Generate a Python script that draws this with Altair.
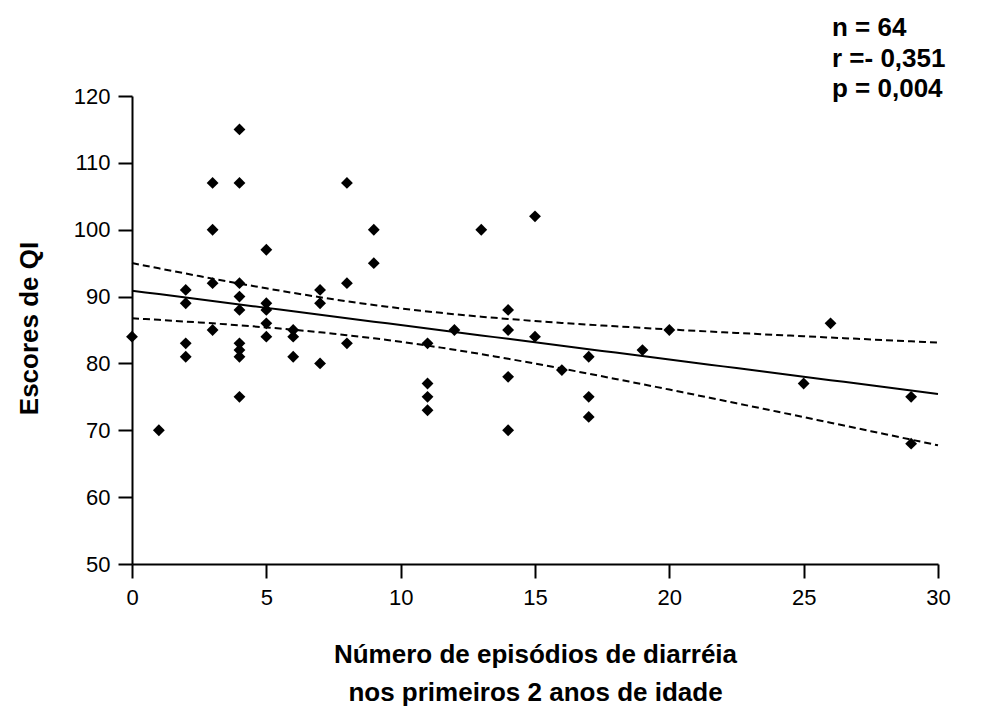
import altair as alt
import numpy as np
import pandas as pd

# Data
episodios = [0, 1,
             2, 2, 2, 2,
             3, 3, 3, 3,
             4, 4, 4, 4, 4, 4, 4, 4, 4,
             5, 5, 5, 5, 5,
             6, 6, 6,
             7, 7, 7,
             8, 8, 8,
             9, 9,
             11, 11, 11, 11,
             12, 13,
             14, 14, 14, 14,
             15, 15, 16,
             17, 17, 17,
             19, 20, 25, 26, 29, 29]
escores_qi = [84, 70,
              91, 89, 83, 81,
              107, 100, 92, 85,
              115, 107, 92, 90, 88, 83, 82, 81, 75,
              97, 89, 88, 86, 84,
              85, 84, 81,
              91, 89, 80,
              107, 92, 83,
              100, 95,
              83, 77, 75, 73,
              85, 100,
              88, 85, 78, 70,
              102, 84, 79,
              81, 75, 72,
              82, 85, 77, 86, 75, 68]

x_ticks = [0, 5, 10, 15, 20, 25, 30]
y_ticks = [50, 60, 70, 80, 90, 100, 110, 120]
stats_text = "n = 64\nr =- 0,351\np = 0,004"
x_title = ["Número de episódios de diarréia", "nos primeiros 2 anos de idade"]
y_title = "Escores de QI"

pts = pd.DataFrame({"x": episodios, "y": escores_qi})

# Linear regression with 95% confidence band, derived from the data
xa = np.array(episodios, dtype=float)
ya = np.array(escores_qi, dtype=float)
n = len(xa)
slope, intercept = np.polyfit(xa, ya, 1)
resid = ya - (intercept + slope * xa)
s = np.sqrt(np.sum(resid ** 2) / (n - 2))
sxx = np.sum((xa - xa.mean()) ** 2)
t_crit = 2.00
xs = np.linspace(0, 30, 61)
fit = intercept + slope * xs
half = t_crit * s * np.sqrt(1.0 / n + (xs - xa.mean()) ** 2 / sxx)
fit_df = pd.DataFrame({"x": xs, "fit": fit, "lo": fit - half, "hi": fit + half})

FONT = "Liberation Sans"

xscale = alt.Scale(domain=[0, 30], nice=False, zero=False)
yscale = alt.Scale(domain=[50, 120], nice=False, zero=False)

axis_style = dict(grid=False, domainColor="black", domainWidth=2, tickColor="black",
                  tickWidth=2, tickSize=14, labelFont=FONT, labelFontSize=22,
                  labelColor="black")

x_axis = alt.Axis(values=x_ticks, title=x_title, titleFontSize=26, titleFontWeight="bold",
                  titleFont=FONT, titleColor="black", titleX=403, titleY=77,
                  titleAlign="center", titleBaseline="top", titleLineHeight=38,
                  labelPadding=9, labelFlush=False, **axis_style)
y_axis = alt.Axis(values=y_ticks, title=y_title, titleFontSize=26, titleFontWeight="bold",
                  titleFont=FONT, titleColor="black", titleAngle=270, titleX=-95, titleY=232,
                  titleAlign="center", titleBaseline="alphabetic",
                  labelPadding=8, **axis_style)

points = alt.Chart(pts).mark_point(shape="diamond", filled=True, color="black",
                                   size=140, opacity=1).encode(
    x=alt.X("x:Q", scale=xscale, axis=x_axis),
    y=alt.Y("y:Q", scale=yscale, axis=y_axis),
)

base = alt.Chart(fit_df)
line_fit = base.mark_line(color="black", strokeWidth=2).encode(
    x=alt.X("x:Q", scale=xscale), y=alt.Y("fit:Q", scale=yscale))
line_lo = base.mark_line(color="black", strokeWidth=2, strokeDash=[7, 4]).encode(
    x=alt.X("x:Q", scale=xscale), y=alt.Y("lo:Q", scale=yscale))
line_hi = base.mark_line(color="black", strokeWidth=2, strokeDash=[7, 4]).encode(
    x=alt.X("x:Q", scale=xscale), y=alt.Y("hi:Q", scale=yscale))

stats = alt.Chart(pd.DataFrame({"t": [stats_text]})).mark_text(
    font=FONT, fontSize=26, fontWeight="bold", color="black", align="left",
    baseline="alphabetic", lineBreak="\n", lineHeight=30.5
).encode(text="t:N", x=alt.value(700), y=alt.value(-60))

chart = alt.layer(line_lo, line_hi, line_fit, points, stats).properties(
    width=806, height=468,
    background="white",
    autosize=alt.AutoSizeParams(type="none"),
    padding={"left": 132, "top": 96, "right": 48, "bottom": 142},
).configure_view(stroke=None).configure_axis(**axis_style)

chart.save("out.html", embed_options={"renderer": "svg", "actions": False})
